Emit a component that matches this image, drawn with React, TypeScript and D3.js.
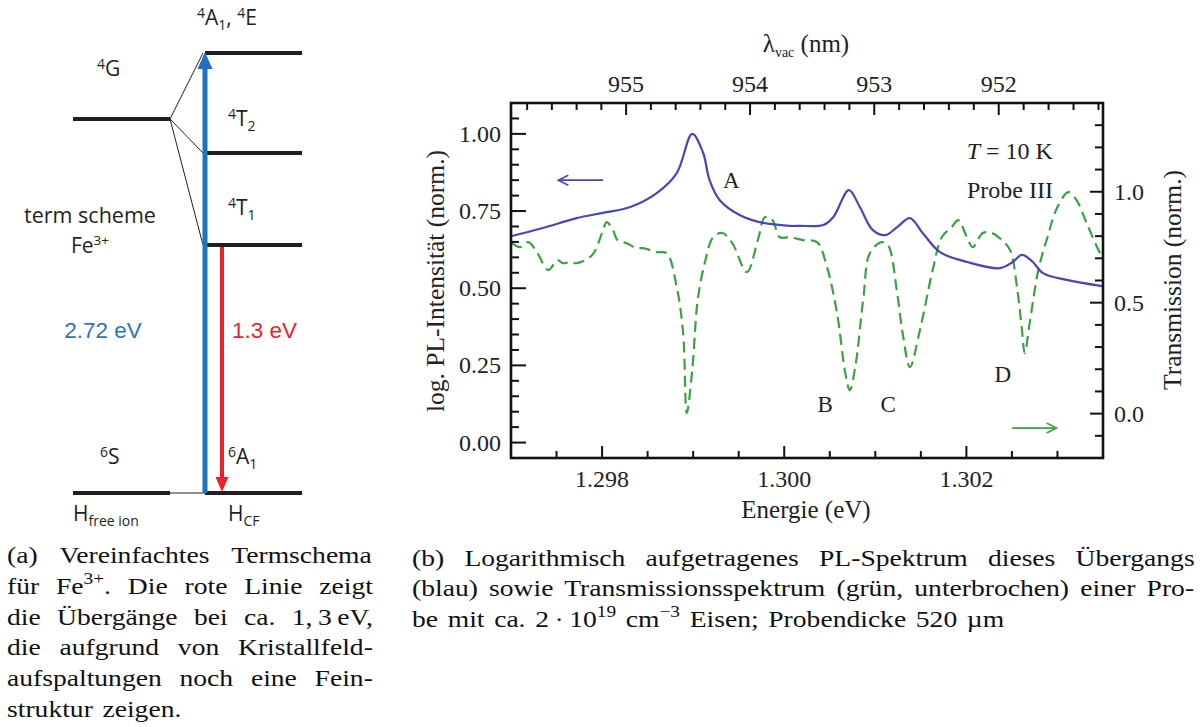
import * as d3 from 'd3';

// ---- spectrum data ----
// PL spectrum, log scale normalised (blue, left axis)
const plEnergy = [1.29701, 1.29735, 1.29772, 1.29801, 1.29831, 1.2986, 1.29882, 1.29899, 1.29911, 1.29918, 1.29929, 1.29951, 1.29973, 1.30006, 1.30017, 1.30043, 1.30054, 1.30071, 1.30083, 1.30097, 1.30111, 1.30124, 1.30138, 1.30152, 1.30171, 1.30201, 1.30237, 1.30251, 1.30261, 1.30273, 1.30284, 1.3031, 1.30349];
const plValue = [0.669, 0.695, 0.727, 0.744, 0.763, 0.808, 0.873, 1.0, 0.938, 0.85, 0.786, 0.737, 0.714, 0.702, 0.702, 0.705, 0.731, 0.818, 0.763, 0.689, 0.672, 0.698, 0.727, 0.679, 0.617, 0.585, 0.565, 0.585, 0.608, 0.585, 0.549, 0.527, 0.507];

// transmission (green dashed, right axis)
const trEnergy = [1.29701, 1.2971, 1.29719, 1.29729, 1.29741, 1.29751, 1.29757, 1.29765, 1.29772, 1.29789, 1.298, 1.29805, 1.29812, 1.29817, 1.29827, 1.29838, 1.29845, 1.2986, 1.29871, 1.29882, 1.29889, 1.29893, 1.29899, 1.29905, 1.29913, 1.29922, 1.29932, 1.29943, 1.29959, 1.29971, 1.29979, 1.29987, 1.29995, 1.30006, 1.30021, 1.30036, 1.30047, 1.30058, 1.30067, 1.30072, 1.30078, 1.30087, 1.30094, 1.30107, 1.30114, 1.30124, 1.3013, 1.30138, 1.30149, 1.30163, 1.30173, 1.30184, 1.30191, 1.30201, 1.30207, 1.30218, 1.30228, 1.30239, 1.30248, 1.30256, 1.30261, 1.30264, 1.3027, 1.30279, 1.30289, 1.303, 1.30312, 1.30321, 1.30332, 1.30345, 1.3035];
const trValue = [0.768, 0.75, 0.773, 0.723, 0.647, 0.692, 0.678, 0.683, 0.678, 0.714, 0.814, 0.863, 0.827, 0.782, 0.768, 0.746, 0.746, 0.728, 0.723, 0.57, 0.363, 0.003, 0.196, 0.512, 0.683, 0.795, 0.814, 0.768, 0.638, 0.782, 0.886, 0.872, 0.795, 0.795, 0.782, 0.773, 0.66, 0.453, 0.183, 0.106, 0.21, 0.525, 0.723, 0.773, 0.759, 0.543, 0.363, 0.21, 0.377, 0.647, 0.795, 0.841, 0.872, 0.791, 0.75, 0.814, 0.814, 0.782, 0.737, 0.557, 0.377, 0.273, 0.422, 0.647, 0.795, 0.931, 0.998, 0.962, 0.859, 0.737, 0.701];

// tick labels
const energyTicks = [1.298, 1.3, 1.302];
const wavelengthTicks = [955, 954, 953, 952];
const plTicks = [0, 0.25, 0.5, 0.75, 1.0];
const trTicks = [0, 0.5, 1.0];

// peak labels: [label, energy, value on transmission axis]
const peakLabels: [string, number, number][] = [
  ['B', 1.30045, 0.007],
  ['C', 1.30114, 0.007],
  ['D', 1.3024, 0.142],
];

// term scheme levels (schematic height 0..1)
const freeIonLevels = [
  { name: '4G', h: 0.85 },
  { name: '6S', h: 0 },
];
const crystalLevels = [
  { name: '4A1,4E', h: 1 },
  { name: '4T2', h: 0.7727 },
  { name: '4T1', h: 0.5636 },
  { name: '6A1', h: 0 },
];

const HC = 1239.842; // eV nm

const SERIF = "'Liberation Serif', 'Times New Roman', serif";
const SANS = "'Open Sans', 'Liberation Sans', sans-serif";
const ARIAL = "'Liberation Sans', Arial, sans-serif";

const BLUE_PL = '#4a46b8';
const GREEN_TR = '#38a244';

// ---- caption text ----
type Seg = { t: string; sup?: boolean };
const captionA: Seg[][] = [
  [{ t: '(a) Vereinfachtes Termschema' }],
  [{ t: 'für Fe' }, { t: '3+', sup: true }, { t: '. Die rote Linie zeigt' }],
  [{ t: 'die Übergänge bei ca. 1,\u20093\u2009eV,' }],
  [{ t: 'die aufgrund von Kristallfeld-' }],
  [{ t: 'aufspaltungen noch eine Fein-' }],
  [{ t: 'struktur zeigen.' }],
];
const captionB: Seg[][] = [
  [{ t: '(b) Logarithmisch aufgetragenes PL-Spektrum dieses Übergangs' }],
  [{ t: '(blau) sowie Transmissionsspektrum (grün, unterbrochen) einer Pro-' }],
  [
    { t: 'be mit ca. 2\u2009·\u200910' },
    { t: '19', sup: true },
    { t: ' cm' },
    { t: '\u22123', sup: true },
    { t: ' Eisen; Probendicke 520 µm' },
  ],
];

let ctx: CanvasRenderingContext2D | null = null;
function measure(s: string, size: number) {
  if (!ctx) ctx = document.createElement('canvas').getContext('2d');
  if (!ctx) return s.length * size * 0.45;
  ctx.font = `${size}px 'Liberation Serif'`;
  return ctx.measureText(s).width;
}

// justified caption; text is stretched horizontally to mimic the wider LaTeX face
function Caption({ lines, x, y0, width, lh, size, sx }: { lines: Seg[][]; x: number; y0: number; width: number; lh: number; size: number; sx: number }) {
  const supSize = size * 0.7;
  const shift = size * 0.42;
  const local = width / sx;
  return (
    <g fontFamily={SERIF} fontSize={size} fill="#111" transform={`translate(${x},0) scale(${sx},1)`}>
      {lines.map((segs, li) => {
        const last = li === lines.length - 1;
        const natural = d3.sum(segs, (s) => measure(s.t, s.sup ? supSize : size));
        const spaces = d3.sum(segs, (s) => (s.t.match(/ /g) || []).length);
        const ws = last || spaces === 0 ? size * 0.1 : (local - natural) / spaces;
        let prev = 0;
        return (
          <text key={li} x={0} y={y0 + li * lh} style={{ wordSpacing: `${ws}px` }}>
            {segs.map((s, si) => {
              const cur = s.sup ? -shift : 0;
              const dy = cur - prev;
              prev = cur;
              return (
                <tspan key={si} dy={dy} fontSize={s.sup ? supSize : size}>
                  {s.t}
                </tspan>
              );
            })}
          </text>
        );
      })}
    </g>
  );
}

// ---- left panel: term scheme ----
function TermScheme() {
  const y = d3.scaleLinear().domain([0, 1]).range([493, 53]);
  const freeX = [73, 170];
  const cfX = [205, 302];
  const g4 = freeIonLevels[0];
  const ink = '#231f20';
  const blueArrow = '#1f72bd';
  const redArrow = '#e8232a';
  return (
    <g fontFamily={SANS} fill={ink}>
      {freeIonLevels.map((l) => (
        <line key={l.name} x1={freeX[0]} x2={freeX[1]} y1={y(l.h)} y2={y(l.h)} stroke={ink} strokeWidth={4} />
      ))}
      {crystalLevels.map((l) => (
        <line key={l.name} x1={cfX[0] + (l.h > 0 && l.h < 1 ? 2 : 0)} x2={cfX[1]} y1={y(l.h)} y2={y(l.h)} stroke={ink} strokeWidth={4} />
      ))}
      {crystalLevels.slice(0, 3).map((l) => (
        <line key={'s' + l.name} x1={freeX[1]} y1={y(g4.h)} x2={cfX[0] - 2} y2={y(l.h)} stroke={ink} strokeWidth={1} />
      ))}
      <line x1={freeX[1]} x2={cfX[0]} y1={y(0)} y2={y(0)} stroke={ink} strokeWidth={1} />

      {/* excitation arrow */}
      <line x1={205} x2={205} y1={y(0)} y2={y(1) + 14} stroke={blueArrow} strokeWidth={5} />
      <path d={`M205,${y(1) - 1} L197.5,${y(1) + 16} L212.5,${y(1) + 16} Z`} fill={blueArrow} />
      {/* emission arrow */}
      <line x1={222} x2={222} y1={y(0.5636) + 2} y2={y(0) - 13} stroke={redArrow} strokeWidth={4} />
      <path d={`M222,${y(0) - 1} L215.5,${y(0) - 16} L228.5,${y(0) - 16} Z`} fill={redArrow} />

      <text x={197} y={25} fontSize={21}>
        <tspan fontSize={14} dy={-7}>4</tspan>
        <tspan dy={7}>A</tspan>
        <tspan fontSize={14} dy={5}>1</tspan>
        <tspan dy={-5}>, </tspan>
        <tspan fontSize={14} dy={-7}>4</tspan>
        <tspan dy={7}>E</tspan>
      </text>
      <text x={97} y={76} fontSize={21}>
        <tspan fontSize={14} dy={-7}>4</tspan>
        <tspan dy={7}>G</tspan>
      </text>
      <text x={228} y={126} fontSize={21}>
        <tspan fontSize={14} dy={-7}>4</tspan>
        <tspan dy={7}>T</tspan>
        <tspan fontSize={14} dy={5}>2</tspan>
      </text>
      <text x={228} y={215} fontSize={21}>
        <tspan fontSize={14} dy={-7}>4</tspan>
        <tspan dy={7}>T</tspan>
        <tspan fontSize={14} dy={5}>1</tspan>
      </text>
      <text x={90} y={223} fontSize={21.5} textAnchor="middle">term scheme</text>
      <text x={90} y={253} fontSize={21} textAnchor="middle">
        Fe<tspan fontSize={13.5} dy={-8}>3+</tspan>
      </text>
      <text x={103} y={338} fontSize={22.5} fontFamily={ARIAL} fill="#2e74c0" textAnchor="middle">2.72 eV</text>
      <text x={232} y={338} fontSize={22.5} fontFamily={ARIAL} fill="#e8232a">1.3 eV</text>
      <text x={100} y={464} fontSize={21}>
        <tspan fontSize={14} dy={-7}>6</tspan>
        <tspan dy={7}>S</tspan>
      </text>
      <text x={228} y={464} fontSize={21}>
        <tspan fontSize={14} dy={-7}>6</tspan>
        <tspan dy={7}>A</tspan>
        <tspan fontSize={14} dy={5}>1</tspan>
      </text>
      <text x={73} y={521} fontSize={21}>
        H<tspan fontSize={14} dy={5}>free ion</tspan>
      </text>
      <text x={228} y={521} fontSize={21}>
        H<tspan fontSize={14} dy={5}>CF</tspan>
      </text>
    </g>
  );
}

// ---- right panel: spectra ----
function Spectrum() {
  const frame = { left: 511, right: 1103, top: 103, bottom: 458 };
  const x = d3.scaleLinear().domain([1.297, 1.3035]).range([frame.left, frame.right]);
  const yL = d3.scaleLinear().domain([-0.05, 1.1]).range([frame.bottom, frame.top]);
  const yR = d3.scaleLinear().domain([-0.2, 1.4]).range([frame.bottom, frame.top]);

  const plPath = d3
    .line<number>()
    .x((_, i) => x(plEnergy[i]))
    .y((d) => yL(d))
    .curve(d3.curveCatmullRom.alpha(0.5))(plValue);
  const trPath = d3
    .line<number>()
    .x((_, i) => x(trEnergy[i]))
    .y((d) => yR(d))
    .curve(d3.curveCatmullRom.alpha(0.5))(trValue);

  // tick positions
  const eTicks = d3.range(2595, 2607).map((i) => ({ v: i * 0.0005, major: i % 4 === 0 }));
  const lTicks = d3.range(0, 22).map((i) => ({ v: i * 0.05, major: i % 5 === 0 }));
  const rTicks = d3.range(-1, 14).map((i) => ({ v: i * 0.1, major: i % 5 === 0 }));
  const wTicks = d3.range(4756, 4780).map((i) => ({ v: i * 0.2, major: i % 5 === 0 }));

  const tickStroke = { stroke: '#111', strokeWidth: 2 };
  const fmtL = d3.format('.2f');
  const fmtR = d3.format('.1f');
  const fmtE = d3.format('.3f');

  return (
    <g fontFamily={SERIF} fill="#222">
      <defs>
        <clipPath id="plot">
          <rect x={frame.left} y={frame.top} width={frame.right - frame.left} height={frame.bottom - frame.top} />
        </clipPath>
        <marker id="arrHead" viewBox="0 0 12 12" refX={11} refY={6} markerWidth={12} markerHeight={12} markerUnits="userSpaceOnUse" orient="auto">
          <path d="M1,1 L11,6 L1,11" fill="none" stroke="context-stroke" strokeWidth={1.6} />
        </marker>
      </defs>

      {/* curves */}
      <g clipPath="url(#plot)">
        <path d={trPath ?? ''} fill="none" stroke={GREEN_TR} strokeWidth={2.2} strokeDasharray="11 6" />
        <path d={plPath ?? ''} fill="none" stroke={BLUE_PL} strokeWidth={2.2} />
      </g>

      {/* ticks */}
      {eTicks.map((t, i) => (
        <line key={'e' + i} x1={x(t.v)} x2={x(t.v)} y1={frame.bottom} y2={frame.bottom - (t.major ? 12 : 7)} {...tickStroke} />
      ))}
      {wTicks.map((t, i) => (
        <line key={'w' + i} x1={x(HC / t.v)} x2={x(HC / t.v)} y1={frame.top} y2={frame.top + (t.major ? 12 : 7)} {...tickStroke} />
      ))}
      {lTicks.map((t, i) => (
        <line key={'l' + i} x1={frame.left} x2={frame.left + (t.major ? 15 : 8)} y1={yL(t.v)} y2={yL(t.v)} {...tickStroke} />
      ))}
      {rTicks.map((t, i) => (
        <line key={'r' + i} x1={frame.right} x2={frame.right - (t.major ? 13 : 8)} y1={yR(t.v)} y2={yR(t.v)} {...tickStroke} />
      ))}

      <rect x={frame.left} y={frame.top} width={frame.right - frame.left} height={frame.bottom - frame.top} fill="none" stroke="#111" strokeWidth={2.6} />

      {/* tick labels */}
      {energyTicks.map((v) => (
        <text key={v} x={x(v)} y={487} fontSize={24} textAnchor="middle">{fmtE(v)}</text>
      ))}
      {wavelengthTicks.map((v) => (
        <text key={v} x={x(HC / v)} y={92} fontSize={24} textAnchor="middle">{v}</text>
      ))}
      {plTicks.map((v) => (
        <text key={v} x={501} y={yL(v) + 8} fontSize={24} textAnchor="end">{fmtL(v)}</text>
      ))}
      {trTicks.map((v) => (
        <text key={v} x={1114} y={yR(v) + 8} fontSize={24}>{fmtR(v)}</text>
      ))}

      {/* axis titles */}
      <text x={806} y={518} fontSize={25} textAnchor="middle">Energie (eV)</text>
      <text x={806} y={52} fontSize={25} textAnchor="middle">
        λ<tspan fontSize={14} dy={5}>vac</tspan>
        <tspan dy={-5}> (nm)</tspan>
      </text>
      <text transform="translate(444,281) rotate(-90)" fontSize={25.5} textAnchor="middle">log. PL-Intensität (norm.)</text>
      <text transform="translate(1181,280) rotate(-90)" fontSize={25.5} textAnchor="middle">Transmission (norm.)</text>

      {/* annotations */}
      <text x={x(1.29942)} y={yL(0.825)} fontSize={23} textAnchor="middle">A</text>
      {peakLabels.map(([s, e, v]) => (
        <text key={s} x={x(e)} y={yR(v)} fontSize={23} textAnchor="middle">{s}</text>
      ))}
      <text x={x(1.30295)} y={yR(1.147)} fontSize={24} textAnchor="end">
        <tspan fontStyle="italic">T</tspan> = 10 K
      </text>
      <text x={x(1.30295)} y={yR(0.971)} fontSize={24} textAnchor="end">Probe III</text>

      <line x1={x(1.29801)} x2={x(1.29752)} y1={yL(0.85)} y2={yL(0.85)} stroke={BLUE_PL} strokeWidth={1.8} markerEnd="url(#arrHead)" />
      <line x1={x(1.3025)} x2={x(1.30299)} y1={yR(-0.065)} y2={yR(-0.065)} stroke={GREEN_TR} strokeWidth={1.8} markerEnd="url(#arrHead)" />
    </g>
  );
}

export default function App() {
  return (
    <svg width={1203} height={727} style={{ position: 'absolute', left: 0, top: 0, background: '#fff' }}>
      <rect width={1203} height={727} fill="#fff" />
      <TermScheme />
      <Spectrum />
      <Caption lines={captionA} x={7} y0={563} width={366} lh={30.8} size={23} sx={1.2} />
      <Caption lines={captionB} x={412} y0={566} width={783} lh={30.5} size={23} sx={1.2} />
    </svg>
  );
}
